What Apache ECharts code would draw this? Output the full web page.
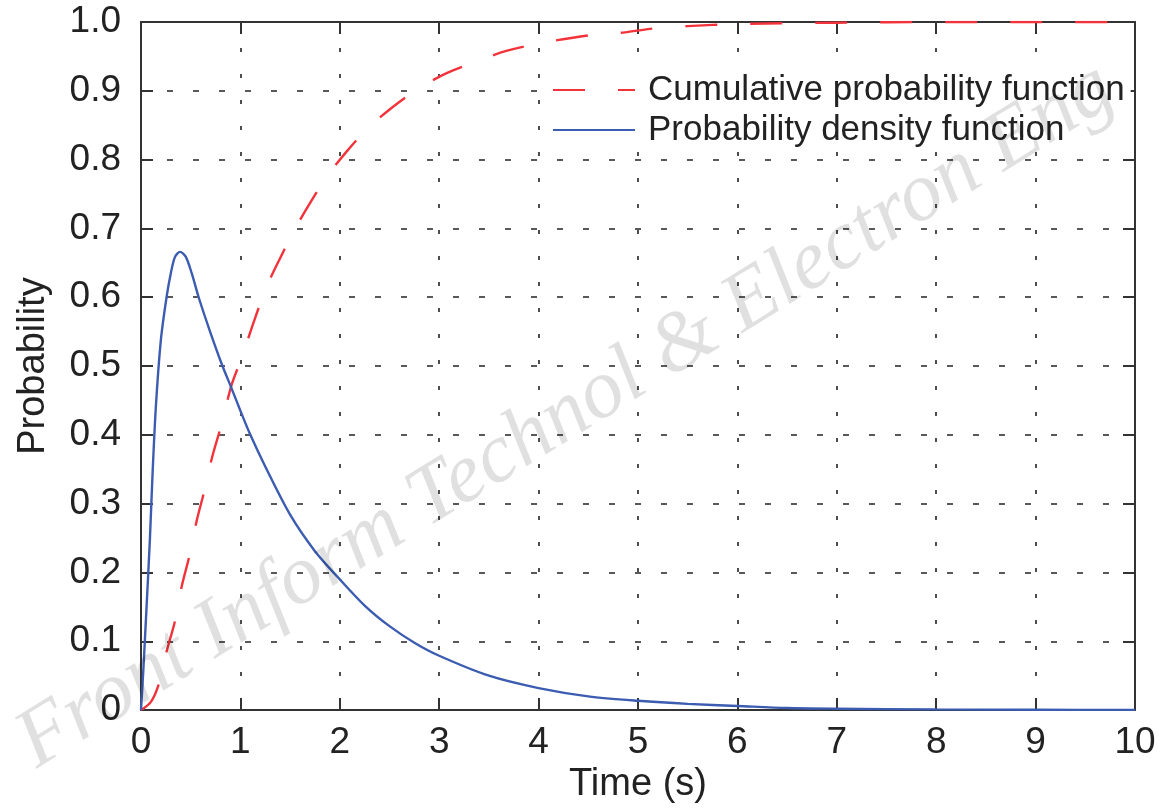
<!DOCTYPE html>
<html>
<head>
<meta charset="utf-8">
<script src="https://cdn.jsdelivr.net/npm/echarts@6/dist/echarts.min.js"></script>
<style>
html,body{margin:0;padding:0;background:#fff;}
#chart{width:1161px;height:809px;}
</style>
</head>
<body>
<div id="chart"></div>
<script>
// ---- data ----
var xTicks = [0,1,2,3,4,5,6,7,8,9,10];
var yTicks = [0,0.1,0.2,0.3,0.4,0.5,0.6,0.7,0.8,0.9,1.0];

var cdfName = 'Cumulative probability function';
var pdfName = 'Probability density function';

var cdfTime = [0, 0.1, 0.177, 0.257, 0.343, 0.41, 0.49, 0.56, 0.64, 0.72, 0.81, 0.91, 1.01, 1.146, 1.263, 1.397, 1.548, 1.709, 1.889, 2.07, 2.27, 2.52, 2.80, 3.08, 3.38, 3.675, 4.01, 4.53, 4.87, 5.12, 5.5, 6, 7, 8, 9, 10];
var cdfProb = [0, 0.012, 0.037, 0.085, 0.13, 0.18, 0.226, 0.275, 0.32, 0.37, 0.415, 0.472, 0.511, 0.569, 0.615, 0.656, 0.699, 0.739, 0.779, 0.812, 0.844, 0.875, 0.904, 0.926, 0.943, 0.958, 0.969, 0.981, 0.985, 0.99, 0.994, 0.997, 0.999, 1, 1, 1];

var pdfTime = [0, 0.023, 0.057, 0.09, 0.117, 0.15, 0.2, 0.257, 0.3, 0.343, 0.393, 0.45, 0.51, 0.58, 0.7, 0.82, 0.91, 1.0, 1.1, 1.25, 1.5, 1.75, 2, 2.25, 2.5, 2.75, 3, 3.5, 4, 4.5, 5, 5.5, 6, 6.5, 7, 8, 9, 10];
var pdfProb = [0, 0.057, 0.153, 0.25, 0.346, 0.442, 0.538, 0.6, 0.635, 0.659, 0.666, 0.659, 0.635, 0.6, 0.548, 0.5, 0.468, 0.435, 0.4, 0.354, 0.284, 0.231, 0.19, 0.152, 0.122, 0.098, 0.079, 0.05, 0.032, 0.02, 0.0135, 0.009, 0.006, 0.003, 0.002, 0.001, 0.0005, 0.0003];

var watermark = 'Front Inform Technol & Electron Eng';

function pairs(xs, ys){ return xs.map(function(x,i){ return [x, ys[i]]; }); }

var FONT = '"Liberation Sans", Arial, Helvetica, sans-serif';
var AX = '#333';

var chart = echarts.init(document.getElementById('chart'), null, {renderer:'canvas'});
chart.setOption({
  backgroundColor: '#ffffff',
  animation: false,
  grid: { left: 141, right: 26, top: 22, bottom: 96, containLabel: false },
  graphic: [{
    type: 'text',
    x: 566, y: 416,
    rotation: 0.553,
    z: 100,
    silent: true,
    style: {
      text: watermark,
      font: 'italic 84px "Liberation Serif", "Times New Roman", serif',
      fill: 'rgba(0,0,0,0.12)',
      textAlign: 'center',
      textVerticalAlign: 'middle'
    }
  }],
  legend: {
    orient: 'vertical',
    left: 546, top: 68,
    padding: [4, 6, 4, 6],
    itemGap: 4,
    itemWidth: 82,
    itemHeight: 14,
    backgroundColor: '#ffffff',
    z: 5,
    itemStyle: { opacity: 0 },
    textStyle: { fontFamily: FONT, fontSize: 35, color: '#222', lineHeight: 36, padding: [0,0,0,8] },
    data: [cdfName, pdfName]
  },
  xAxis: [{
    type: 'value', min: 0, max: 10, interval: 1,
    name: 'Time (s)', nameLocation: 'middle', nameGap: 54,
    nameTextStyle: { fontFamily: FONT, fontSize: 38, color: '#222' },
    axisLine: { show: true, onZero: false, lineStyle: { color: AX, width: 2 } },
    axisTick: { show: true, inside: true, length: 12, lineStyle: { color: AX, width: 2 } },
    axisLabel: { fontFamily: FONT, fontSize: 37, color: '#222', margin: 14,
      formatter: function(v){ return xTicks.indexOf(v) >= 0 ? String(v) : ''; } },
    splitLine: { show: true, lineStyle: { color: '#222', width: 1.6, type: [4, 22] } }
  }, {
    type: 'value', min: 0, max: 10, interval: 1, position: 'top',
    axisLine: { show: true, onZero: false, lineStyle: { color: AX, width: 2 } },
    axisTick: { show: true, inside: true, length: 12, lineStyle: { color: AX, width: 2 } },
    axisLabel: { show: false }, splitLine: { show: false }
  }],
  yAxis: [{
    type: 'value', min: 0, max: 1, interval: 0.1,
    name: 'Probability', nameLocation: 'middle', nameGap: 88, nameRotate: 90,
    nameTextStyle: { fontFamily: FONT, fontSize: 38, color: '#222' },
    axisLine: { show: true, onZero: false, lineStyle: { color: AX, width: 2 } },
    axisTick: { show: true, inside: true, length: 12, lineStyle: { color: AX, width: 2 } },
    axisLabel: { fontFamily: FONT, fontSize: 37, color: '#222', margin: 20,
      formatter: function(v){
        var r = Math.round(v*10)/10;
        if (r === 0) return '0';
        if (r === 1) return '1.0';
        return r.toFixed(1);
      } },
    splitLine: { show: true, lineStyle: { color: '#222', width: 1.6, type: [6, 20] } }
  }, {
    type: 'value', min: 0, max: 1, interval: 0.1, position: 'right',
    axisLine: { show: true, onZero: false, lineStyle: { color: AX, width: 2 } },
    axisTick: { show: true, inside: true, length: 12, lineStyle: { color: AX, width: 2 } },
    axisLabel: { show: false }, splitLine: { show: false }
  }],
  series: [{
    name: cdfName,
    type: 'line',
    xAxisIndex: 0, yAxisIndex: 0,
    data: pairs(cdfTime, cdfProb),
    showSymbol: false, symbol: 'none',
    smooth: 0.3,
    z: 3,
    lineStyle: { color: '#f2333b', width: 2.4, type: [32, 33] },
    itemStyle: { color: '#f2333b' }
  }, {
    name: pdfName,
    type: 'line',
    xAxisIndex: 0, yAxisIndex: 0,
    data: pairs(pdfTime, pdfProb),
    showSymbol: false, symbol: 'none',
    smooth: 0.3,
    z: 4,
    lineStyle: { color: '#3b5cb0', width: 2.4 },
    itemStyle: { color: '#3b5cb0' }
  }]
});
</script>
</body>
</html>
